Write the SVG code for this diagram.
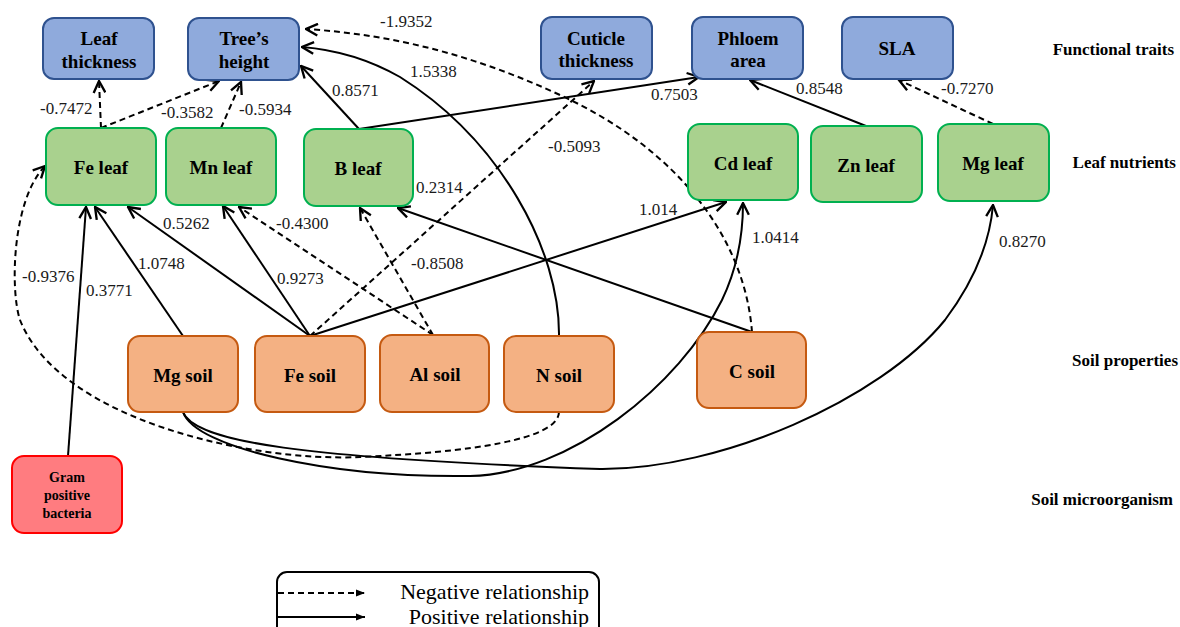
<svg xmlns="http://www.w3.org/2000/svg" width="1180" height="627" viewBox="0 0 1180 627">
<defs>
<marker id="arr" markerUnits="userSpaceOnUse" markerWidth="14" markerHeight="14" viewBox="0 0 12 12" refX="11" refY="6" orient="auto">
<path d="M1,1 L11,6 L1,11" fill="none" stroke="#000" stroke-width="2" stroke-dasharray="none"/>
</marker>
<marker id="tri" markerUnits="userSpaceOnUse" markerWidth="10" markerHeight="10" viewBox="0 0 10 10" refX="9" refY="5" orient="auto">
<path d="M0,1.5 L9,5 L0,8.5 Z" fill="#000"/>
</marker>
</defs>
<style>
.n rect{stroke-width:2}
.blue rect{fill:#8faadc;stroke:#2f528f}
.green rect{fill:#a9d18e;stroke:#00b050}
.orange rect{fill:#f4b183;stroke:#c55a11}
.red rect{fill:#ff7c80;stroke:#ff0000}
text{font-family:'Liberation Serif','DejaVu Serif',serif}
.n text{font-weight:bold;font-size:19px;text-anchor:middle;fill:#000}
.red text{font-size:14px}
.e{fill:none;stroke:#000;stroke-width:2;marker-end:url(#arr)}
.d{stroke-dasharray:6 4}
.lbl text{font-size:17px;fill:#1a1a1a}
.row{font-weight:bold;font-size:17px;text-anchor:end;fill:#000}
.lg{font-size:22px;text-anchor:end;fill:#000}
</style>
<rect width="1180" height="627" fill="#fff"/>

<g id="connectors">
<path class="e d" d="M101,128 L99,81"/>
<path class="e d" d="M101,128 L219,81"/>
<path class="e d" d="M221,128 L241,82"/>
<path class="e" d="M359,129 L301,66"/>
<path class="e" d="M359,129 L699,77"/>
<path class="e" d="M866,126 L750,80"/>
<path class="e d" d="M993,124 L899,80"/>
<path class="e d" d="M752,332 C745,240 680,150 560,95 C480,58 400,35 306,29"/>
<path class="e" d="M559,336 C560,250 500,140 400,77 C370,60 340,50 302,47"/>
<path class="e d" d="M310,336 L594,81"/>
<path class="e" d="M310,336 L128,207"/>
<path class="e" d="M310,336 L223,206"/>
<path class="e" d="M310,336 L726,202"/>
<path class="e d" d="M433,335 L239,207"/>
<path class="e d" d="M433,335 L360,208"/>
<path class="e" d="M752,332 L398,208"/>
<path class="e" d="M183,336 L95,207"/>
<path class="e" d="M68,456 L86,207"/>
<path class="e d" d="M559,412 C558,440 470,452 360,457 C250,462 60,420 20,320 C10,290 12,200 45,166"/>
<path class="e" d="M183,412 C195,448 330,478 470,476 C570,474 680,385 722,300 C735,273 743,240 743,203"/>
<path class="e" d="M183,412 C195,442 300,458 600,469 C720,470 880,400 945,320 C975,280 990,240 993,205"/>
</g>

<g id="edge-labels" class="lbl">
<text x="380" y="27">-1.9352</text>
<text x="40" y="114">-0.7472</text>
<text x="161" y="118">-0.3582</text>
<text x="239" y="115">-0.5934</text>
<text x="332" y="96">0.8571</text>
<text x="410" y="77">1.5338</text>
<text x="651" y="100">0.7503</text>
<text x="796" y="94">0.8548</text>
<text x="941" y="94">-0.7270</text>
<text x="548" y="152">-0.5093</text>
<text x="416" y="193">0.2314</text>
<text x="639" y="215">1.014</text>
<text x="163" y="229">0.5262</text>
<text x="276" y="229">-0.4300</text>
<text x="138" y="269">1.0748</text>
<text x="22" y="282">-0.9376</text>
<text x="86" y="296">0.3771</text>
<text x="277" y="284">0.9273</text>
<text x="411" y="269">-0.8508</text>
<text x="752" y="243">1.0414</text>
<text x="999" y="247">0.8270</text>
</g>

<g id="leaf-thickness" class="n blue"><rect x="43" y="18" width="111" height="61" rx="11"/><text x="99" y="45">Leaf</text><text x="99" y="68">thickness</text></g>
<g id="trees-height" class="n blue"><rect x="188" y="18" width="111" height="62" rx="11"/><text x="244" y="45">Tree’s</text><text x="244" y="68">height</text></g>
<g id="cuticle-thickness" class="n blue"><rect x="541" y="17" width="111" height="62" rx="11"/><text x="596" y="45">Cuticle</text><text x="596" y="67">thickness</text></g>
<g id="phloem-area" class="n blue"><rect x="692" y="17" width="111" height="62" rx="11"/><text x="748" y="45">Phloem</text><text x="748" y="67">area</text></g>
<g id="sla" class="n blue"><rect x="842" y="17" width="111" height="62" rx="11"/><text x="897" y="55">SLA</text></g>

<g id="fe-leaf" class="n green"><rect x="46" y="128" width="110" height="77" rx="12"/><text x="101" y="174">Fe leaf</text></g>
<g id="mn-leaf" class="n green"><rect x="166" y="128" width="110" height="77" rx="12"/><text x="221" y="174">Mn leaf</text></g>
<g id="b-leaf" class="n green"><rect x="304" y="129" width="109" height="77" rx="12"/><text x="358" y="175">B leaf</text></g>
<g id="cd-leaf" class="n green"><rect x="688" y="124" width="110" height="76" rx="12"/><text x="743" y="170">Cd leaf</text></g>
<g id="zn-leaf" class="n green"><rect x="811" y="126" width="111" height="76" rx="12"/><text x="866" y="172">Zn leaf</text></g>
<g id="mg-leaf" class="n green"><rect x="938" y="124" width="111" height="77" rx="12"/><text x="993" y="170">Mg leaf</text></g>

<g id="mg-soil" class="n orange"><rect x="128" y="336" width="110" height="76" rx="12"/><text x="183" y="382">Mg soil</text></g>
<g id="fe-soil" class="n orange"><rect x="255" y="336" width="110" height="76" rx="12"/><text x="310" y="382">Fe soil</text></g>
<g id="al-soil" class="n orange"><rect x="380" y="335" width="109" height="77" rx="12"/><text x="435" y="381">Al soil</text></g>
<g id="n-soil" class="n orange"><rect x="504" y="336" width="110" height="76" rx="12"/><text x="559" y="382">N soil</text></g>
<g id="c-soil" class="n orange"><rect x="697" y="332" width="109" height="76" rx="12"/><text x="752" y="378">C soil</text></g>

<g id="gram-positive-bacteria" class="n red"><rect x="12" y="456" width="110" height="77" rx="12"/><text x="67" y="482">Gram</text><text x="67" y="500">positive</text><text x="67" y="518">bacteria</text></g>

<g id="row-labels">
<text class="row" x="1174" y="55">Functional traits</text>
<text class="row" x="1176" y="168">Leaf nutrients</text>
<text class="row" x="1178" y="366">Soil properties</text>
<text class="row" x="1173" y="505">Soil microorganism</text>
</g>

<g id="legend">
<rect x="277" y="572" width="322" height="72" rx="10" fill="none" stroke="#000" stroke-width="2"/>
<path d="M278,593 L365,593" fill="none" stroke="#000" stroke-width="2.2" stroke-dasharray="6 4" marker-end="url(#tri)"/>
<path d="M278,617 L365,617" fill="none" stroke="#000" stroke-width="2.2" marker-end="url(#tri)"/>
<text class="lg" x="589" y="599">Negative relationship</text>
<text class="lg" x="589" y="624">Positive relationship</text>
</g>
</svg>
